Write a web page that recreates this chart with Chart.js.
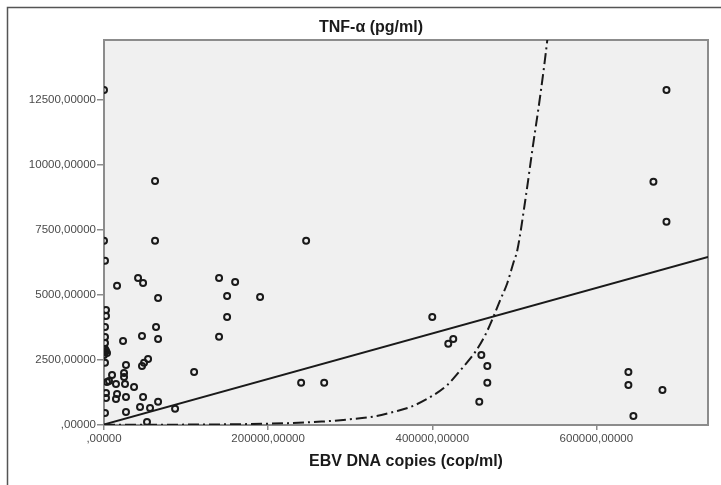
<!DOCTYPE html>
<html>
<head>
<meta charset="utf-8">
<title>TNF-α vs EBV DNA copies</title>
<script src="https://cdn.jsdelivr.net/npm/chart.js@4.4.1/dist/chart.umd.min.js"></script>
<style>
  html,body{margin:0;padding:0;background:#fff;}
  #wrap{width:721px;height:485px;position:relative;}
</style>
</head>
<body>
<div id="wrap"><canvas id="scatter" width="721" height="485"></canvas></div>
<script>
// ---- DATA ----
const ebvCopies = [
  0, 0, 1220, 2440, 2440, 1220, 1220, 1220, 1220, 2440, 1220, 3660, 0, 1220, 3660, 2440, 2440, 1220,
  62200, 62200, 41500, 47600, 15900, 65900, 63400, 23200, 46300, 65900,
  26800, 53700, 48800, 46300, 109800, 9800, 24400, 24400, 6100, 14600, 25600, 36600,
  15900, 26800, 47600, 14600, 65900, 43900, 56100, 86600, 26800, 52400,
  246300, 140200, 159800, 150000, 190200, 150000, 140200, 240200, 268300,
  400000, 425600, 419500, 459800, 467100, 467100, 457300,
  685400, 669500, 685400, 639000, 639000, 680500, 645100
];
const tnfAlpha = [
  12880, 7080, 6310, 4420, 4190, 3770, 3380, 3150, 2920, 2850, 2810, 2770, 2690, 2390, 1650, 1230, 1040, 460,
  9380, 7080, 5650, 5460, 5350, 4880, 3770, 3230, 3420, 3310,
  2310, 2540, 2390, 2270, 2040, 1920, 2000, 1850, 1690, 1580, 1580, 1460,
  1190, 1080, 1080, 1000, 890, 690, 650, 620, 500, 120,
  7080, 5650, 5500, 4960, 4920, 4150, 3390, 1620, 1620,
  4150, 3310, 3120, 2690, 2270, 1620, 890,
  12880, 9350, 7810, 2040, 1540, 1350, 350
];

// straight fit line
const fitLineX = [0, 736000];
const fitLineY = [20, 6460];

// dash-dot curve
const curveX = [0, 100000, 200000, 265000, 300000, 330000, 352400, 373200, 400000, 418300, 436600,
  452400, 464600, 474400, 482900, 491500, 498800, 503700, 513400, 522000, 531700, 540200, 543900];
const curveY = [5, 15, 50, 130, 220, 330, 500, 690, 1120, 1540, 2190,
  2810, 3460, 4150, 4810, 5460, 6230, 6730, 8650, 10580, 12690, 14810, 15960];

const xTickValues = [0, 200000, 400000, 600000];
const yTickValues = [0, 2500, 5000, 7500, 10000, 12500];
const xAxisTitle = "EBV DNA copies (cop/ml)";
const yAxisTitle = "TNF-α (pg/ml)";

// ---- HELPERS ----
const FONT = "'Liberation Sans', Arial, sans-serif";
const fmt = v => v === 0 ? ",00000" : v + ",00000";
const toPoints = (xs, ys) => xs.map((x, i) => ({ x, y: ys[i] }));

// frame, plot background, plot border, top title
const decor = {
  id: "decor",
  beforeDraw(chart){
    const { ctx, chartArea: a } = chart;
    ctx.save();
    ctx.strokeStyle = "#555";
    ctx.lineWidth = 1.5;
    ctx.beginPath();
    ctx.moveTo(7.5, 485); ctx.lineTo(7.5, 7.5); ctx.lineTo(721, 7.5);
    ctx.stroke();
    ctx.fillStyle = "#f0f0f0";
    ctx.fillRect(a.left, a.top, a.right - a.left, a.bottom - a.top);
    ctx.restore();
  },
  beforeDatasetsDraw(chart){
    const { ctx, chartArea: a } = chart;
    ctx.save();
    ctx.strokeStyle = "#8c8c8c";
    ctx.lineWidth = 2;
    ctx.strokeRect(a.left, a.top, a.right - a.left, a.bottom - a.top);
    ctx.fillStyle = "#1a1a1a";
    ctx.font = "bold 16px " + FONT;
    ctx.textAlign = "center";
    ctx.textBaseline = "middle";
    ctx.fillText(yAxisTitle, 371, 28);
    ctx.restore();
  }
};

// ---- CHART ----
new Chart(document.getElementById("scatter").getContext("2d"), {
  type: "scatter",
  data: {
    datasets: [
      {
        data: toPoints(ebvCopies, tnfAlpha),
        pointStyle: "circle",
        pointRadius: 3,
        borderWidth: 2,
        borderColor: "#1a1a1a",
        backgroundColor: "rgba(0,0,0,0)",
        clip: 0,
        order: 3
      },
      {
        data: toPoints(fitLineX, fitLineY),
        showLine: true,
        borderColor: "#1a1a1a",
        borderWidth: 2,
        pointRadius: 0,
        clip: 0,
        order: 2
      },
      {
        data: toPoints(curveX, curveY),
        showLine: true,
        borderColor: "#1a1a1a",
        borderWidth: 2,
        borderDash: [11, 4, 2, 4],
        cubicInterpolationMode: "monotone",
        pointRadius: 0,
        clip: 0,
        order: 1
      }
    ]
  },
  options: {
    responsive: false,
    animation: false,
    layout: { padding: { top: 40, right: 13, left: 0, bottom: 0 } },
    plugins: { legend: { display: false }, tooltip: { enabled: false } },
    scales: {
      x: {
        type: "linear", min: 0, max: 736000,
        afterBuildTicks: s => { s.ticks = xTickValues.map(v => ({ value: v })); },
        afterFit: s => { s.height = 60; },
        grid: { drawOnChartArea: false, drawTicks: true, tickLength: 5, color: "#8c8c8c", lineWidth: 1.5 },
        border: { display: false },
        ticks: { callback: fmt, color: "#4a4a4a", font: { size: 11.5, family: FONT }, padding: 2, maxRotation: 0, autoSkip: false },
        title: { display: true, text: xAxisTitle, color: "#1a1a1a", font: { size: 16, weight: "bold", family: FONT }, padding: { top: 2, bottom: 14 } }
      },
      y: {
        type: "linear", min: 0, max: 14800,
        afterBuildTicks: s => { s.ticks = yTickValues.map(v => ({ value: v })); },
        afterFit: s => { s.width = 104; },
        grid: { drawOnChartArea: false, drawTicks: true, tickLength: 7, color: "#8c8c8c", lineWidth: 1.5 },
        border: { display: false },
        ticks: { callback: fmt, color: "#4a4a4a", font: { size: 11.5, family: FONT }, padding: 1, autoSkip: false }
      }
    }
  },
  plugins: [decor]
});
</script>
</body>
</html>
